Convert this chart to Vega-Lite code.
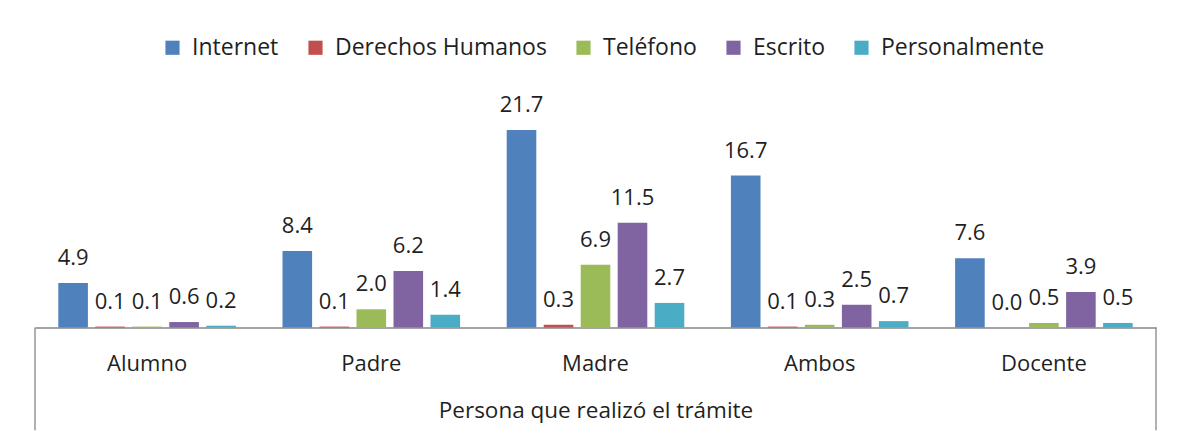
{
  "$schema": "https://vega.github.io/schema/vega-lite/v6.json",
  "autosize": "none",
  "width": 1121,
  "height": 227.5,
  "padding": {"left": 35, "top": 100, "right": 23, "bottom": 111.5},
  "background": "white",
  "config": {
    "view": {"stroke": null},
    "font": "Open Sans",
    "text": {"font": "Open Sans"}
  },
  "layer": [
    {
      "data": {
        "values": [
          {"cat": "Alumno", "serie": "Internet", "v": 4.9},
          {"cat": "Alumno", "serie": "Derechos Humanos", "v": 0.1},
          {"cat": "Alumno", "serie": "Teléfono", "v": 0.1},
          {"cat": "Alumno", "serie": "Escrito", "v": 0.6},
          {"cat": "Alumno", "serie": "Personalmente", "v": 0.2},
          {"cat": "Padre", "serie": "Internet", "v": 8.4},
          {"cat": "Padre", "serie": "Derechos Humanos", "v": 0.1},
          {"cat": "Padre", "serie": "Teléfono", "v": 2.0},
          {"cat": "Padre", "serie": "Escrito", "v": 6.2},
          {"cat": "Padre", "serie": "Personalmente", "v": 1.4},
          {"cat": "Madre", "serie": "Internet", "v": 21.7},
          {"cat": "Madre", "serie": "Derechos Humanos", "v": 0.3},
          {"cat": "Madre", "serie": "Teléfono", "v": 6.9},
          {"cat": "Madre", "serie": "Escrito", "v": 11.5},
          {"cat": "Madre", "serie": "Personalmente", "v": 2.7},
          {"cat": "Ambos", "serie": "Internet", "v": 16.7},
          {"cat": "Ambos", "serie": "Derechos Humanos", "v": 0.1},
          {"cat": "Ambos", "serie": "Teléfono", "v": 0.3},
          {"cat": "Ambos", "serie": "Escrito", "v": 2.5},
          {"cat": "Ambos", "serie": "Personalmente", "v": 0.7},
          {"cat": "Docente", "serie": "Internet", "v": 7.6},
          {"cat": "Docente", "serie": "Derechos Humanos", "v": 0.0},
          {"cat": "Docente", "serie": "Teléfono", "v": 0.5},
          {"cat": "Docente", "serie": "Escrito", "v": 3.9},
          {"cat": "Docente", "serie": "Personalmente", "v": 0.5}
        ]
      },
      "encoding": {
        "x": {
          "field": "cat", "type": "nominal", "sort": null,
          "scale": {"paddingInner": 0, "paddingOuter": 0},
          "axis": {
            "title": "Persona que realizó el trámite",
            "titleFont": "Open Sans", "titleFontSize": 22.5, "titleFontWeight": "normal", "titleColor": "#1f1f1f",
            "titlePadding": 25,
            "labelAngle": 0, "labelFont": "Open Sans", "labelFontSize": 22, "labelColor": "#1f1f1f",
            "labelPadding": 26,
            "ticks": false,
            "domainColor": "#868686", "domainWidth": 1.3
          }
        },
        "xOffset": {
          "field": "serie", "type": "nominal", "sort": null,
          "scale": {"paddingInner": 0.2, "paddingOuter": 0.63}
        },
        "y": {"field": "v", "type": "quantitative", "scale": {"domain": [0, 25], "nice": false}, "axis": null}
      },
      "layer": [
        {
          "mark": {"type": "bar"},
          "encoding": {
            "color": {
              "field": "serie", "type": "nominal", "sort": null,
              "scale": {
                "domain": ["Internet", "Derechos Humanos", "Teléfono", "Escrito", "Personalmente"],
                "range": ["#4F81BD", "#C0504D", "#9BBB59", "#8064A2", "#4BACC6"]
              },
              "legend": {
                "title": null, "orient": "none", "direction": "horizontal",
                "legendX": 126, "legendY": -64,
                "symbolType": "square", "symbolSize": 200, "symbolStrokeWidth": 0,
                "labelFont": "Open Sans", "labelFontSize": 23, "labelColor": "#1f1f1f",
                "labelLimit": 400,
                "columnPadding": 25, "labelOffset": 8
              }
            }
          }
        },
        {
          "mark": {"type": "text", "baseline": "middle", "dy": -25, "fontSize": 22, "font": "Open Sans", "color": "#1f1f1f"},
          "encoding": {
            "text": {"field": "v", "type": "quantitative", "format": ".1f"}
          }
        }
      ]
    },
    {
      "data": {"values": [{"edge": 0}, {"edge": 5}]},
      "mark": {"type": "rule", "color": "#868686", "strokeWidth": 1.3},
      "encoding": {
        "x": {"field": "edge", "type": "quantitative", "scale": {"domain": [0, 5], "nice": false}, "axis": null},
        "y": {"datum": 0, "type": "quantitative"},
        "y2": {"datum": -11.3}
      }
    }
  ],
  "resolve": {"scale": {"x": "independent"}}
}
